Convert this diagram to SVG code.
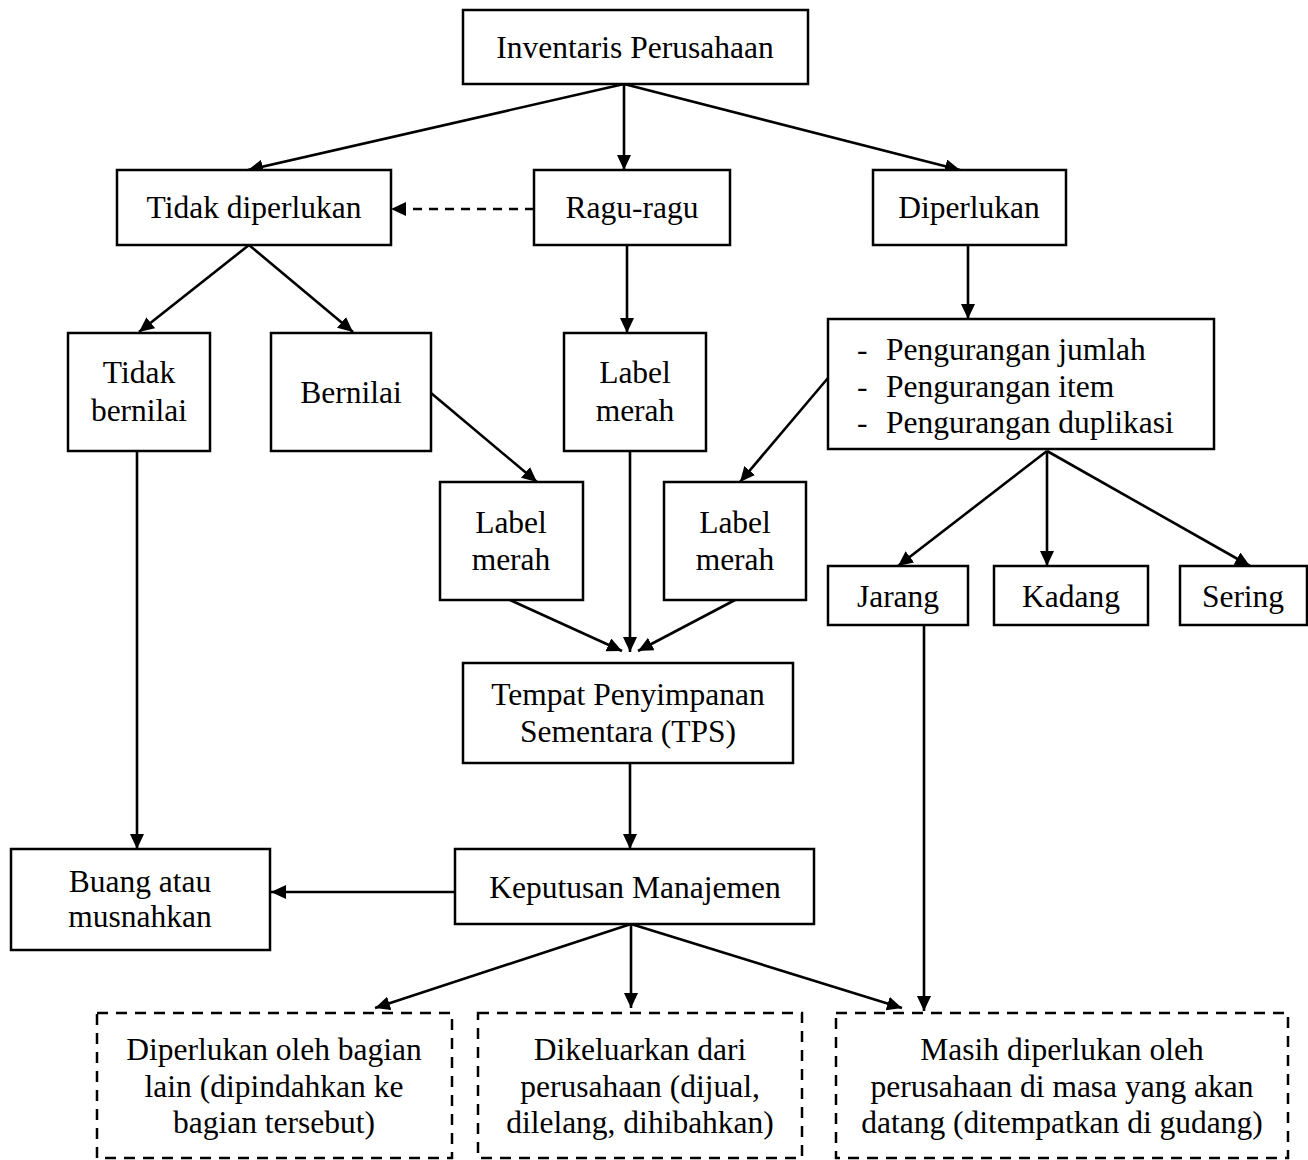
<svg xmlns="http://www.w3.org/2000/svg" width="1308" height="1160" viewBox="0 0 1308 1160">
<style>
.box{fill:#fff;stroke:#000;stroke-width:2.5}
.dbox{fill:#fff;stroke:#000;stroke-width:2.5;stroke-dasharray:11 8}
text{font-family:"Liberation Serif","Times New Roman",serif;font-size:31.5px;fill:#000;text-anchor:middle}
.l{text-anchor:start}
.c{stroke:#000;stroke-width:2.6;fill:none;marker-end:url(#ah)}
.dash{stroke-dasharray:9 7}
</style>
<defs>
<marker id="ah" markerUnits="userSpaceOnUse" markerWidth="16" markerHeight="15" refX="15" refY="7" orient="auto">
<path d="M0,0 L15,7 L0,14 z" fill="#000"/>
</marker>
</defs>
<rect width="1308" height="1160" fill="#fff"/>
<g id="connectors">
<line class="c" x1="624" y1="84" x2="248" y2="170"/>
<line class="c" x1="624" y1="84" x2="624" y2="170"/>
<line class="c" x1="624" y1="84" x2="960" y2="170"/>
<line class="c dash" x1="534" y1="209" x2="391" y2="209"/>
<line class="c" x1="249" y1="245" x2="139" y2="332"/>
<line class="c" x1="249" y1="245" x2="353" y2="332"/>
<line class="c" x1="627" y1="245" x2="627" y2="333"/>
<line class="c" x1="968" y1="245" x2="968" y2="319"/>
<line class="c" x1="431" y1="393" x2="537" y2="482"/>
<line class="c" x1="828" y1="378" x2="740" y2="482"/>
<line class="c" x1="1047" y1="451" x2="898" y2="566"/>
<line class="c" x1="1047" y1="451" x2="1047" y2="566"/>
<line class="c" x1="1047" y1="451" x2="1250" y2="566"/>
<line class="c" x1="510" y1="600" x2="622" y2="651"/>
<line class="c" x1="630" y1="451" x2="630" y2="652"/>
<line class="c" x1="735" y1="600" x2="638" y2="651"/>
<line class="c" x1="137" y1="451" x2="137" y2="849"/>
<line class="c" x1="630" y1="763" x2="630" y2="849"/>
<line class="c" x1="455" y1="892" x2="271" y2="892"/>
<line class="c" x1="631" y1="924" x2="375" y2="1008"/>
<line class="c" x1="631" y1="924" x2="631" y2="1008"/>
<line class="c" x1="631" y1="924" x2="902" y2="1008"/>
<line class="c" x1="924" y1="625" x2="924" y2="1011"/>
</g>
<g id="inventaris"><rect class="box" x="463" y="10" width="345" height="74"/><text x="635" y="58">Inventaris Perusahaan</text></g>
<g id="tidak-diperlukan"><rect class="box" x="117" y="170" width="274" height="75"/><text x="254" y="218">Tidak diperlukan</text></g>
<g id="ragu-ragu"><rect class="box" x="534" y="170" width="196" height="75"/><text x="632" y="218">Ragu-ragu</text></g>
<g id="diperlukan"><rect class="box" x="873" y="170" width="193" height="75"/><text x="969" y="218">Diperlukan</text></g>
<g id="tidak-bernilai"><rect class="box" x="68" y="333" width="142" height="118"/><text x="139" y="383">Tidak</text><text x="139" y="421">bernilai</text></g>
<g id="bernilai"><rect class="box" x="271" y="333" width="160" height="118"/><text x="351" y="403">Bernilai</text></g>
<g id="label-merah-ragu"><rect class="box" x="564" y="333" width="142" height="118"/><text x="635" y="383">Label</text><text x="635" y="421">merah</text></g>
<g id="pengurangan"><rect class="box" x="828" y="319" width="386" height="130"/>
<text class="l" x="857" y="360">-</text><text class="l" x="886" y="360">Pengurangan jumlah</text>
<text class="l" x="857" y="397">-</text><text class="l" x="886" y="397">Pengurangan item</text>
<text class="l" x="857" y="433">-</text><text class="l" x="886" y="433">Pengurangan duplikasi</text></g>
<g id="label-merah-kiri"><rect class="box" x="440" y="482" width="143" height="118"/><text x="511" y="533">Label</text><text x="511" y="570">merah</text></g>
<g id="label-merah-kanan"><rect class="box" x="664" y="482" width="142" height="118"/><text x="735" y="533">Label</text><text x="735" y="570">merah</text></g>
<g id="jarang"><rect class="box" x="828" y="566" width="140" height="59"/><text x="898" y="607">Jarang</text></g>
<g id="kadang"><rect class="box" x="994" y="566" width="154" height="59"/><text x="1071" y="607">Kadang</text></g>
<g id="sering"><rect class="box" x="1180" y="566" width="127" height="59"/><text x="1243" y="607">Sering</text></g>
<g id="tps"><rect class="box" x="463" y="663" width="330" height="100"/><text x="628" y="705">Tempat Penyimpanan</text><text x="628" y="742">Sementara (TPS)</text></g>
<g id="keputusan"><rect class="box" x="455" y="849" width="359" height="75"/><text x="635" y="898">Keputusan Manajemen</text></g>
<g id="buang"><rect class="box" x="11" y="849" width="259" height="101"/><text x="140" y="892">Buang atau</text><text x="140" y="927">musnahkan</text></g>
<g id="bagian-lain"><rect class="dbox" x="97" y="1013" width="355" height="145"/><text x="274" y="1060">Diperlukan oleh bagian</text><text x="274" y="1097">lain (dipindahkan ke</text><text x="274" y="1133">bagian tersebut)</text></g>
<g id="dikeluarkan"><rect class="dbox" x="478" y="1013" width="324" height="145"/><text x="640" y="1060">Dikeluarkan dari</text><text x="640" y="1097">perusahaan (dijual,</text><text x="640" y="1133">dilelang, dihibahkan)</text></g>
<g id="masih"><rect class="dbox" x="836" y="1013" width="452" height="145"/><text x="1062" y="1060">Masih diperlukan oleh</text><text x="1062" y="1097">perusahaan di masa yang akan</text><text x="1062" y="1133">datang (ditempatkan di gudang)</text></g>
</svg>
